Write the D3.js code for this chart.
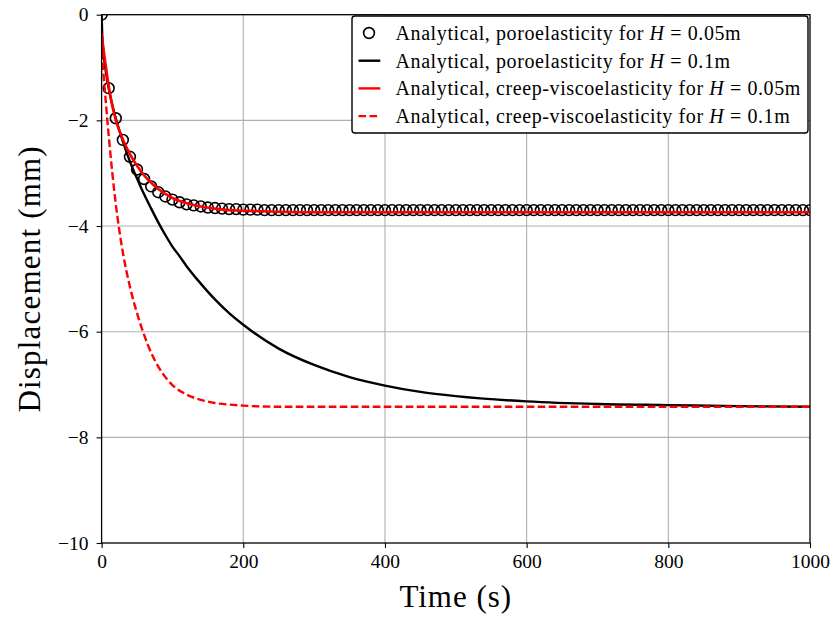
<!DOCTYPE html>
<html>
<head>
<meta charset="utf-8">
<script src="https://cdn.jsdelivr.net/npm/d3@7"></script>
<style>
body { margin: 0; background: #fff; }
svg { font-family: "Liberation Serif", serif; }
.axis line { stroke: #000; stroke-width: 1.1; }
.grid line { stroke: #b0b0b0; stroke-width: 1.1; }
</style>
</head>
<body>
<div id="chart"></div>
<script>
// poroelasticity, H = 0.05m (markers every 10 s)
var poroSmallValues = [0, -1.39, -1.96, -2.37, -2.69, -2.93, -3.11, -3.25, -3.36, -3.44,
    -3.50, -3.55, -3.59, -3.61, -3.63, -3.65, -3.66, -3.67, -3.68, -3.68,
    -3.69, -3.69, -3.69, -3.70, -3.70, -3.70, -3.70, -3.70, -3.70, -3.70,
    -3.70, -3.70, -3.70, -3.70, -3.70, -3.70, -3.70, -3.70, -3.70, -3.70,
    -3.70, -3.70, -3.70, -3.70, -3.70, -3.70, -3.70, -3.70, -3.70, -3.70,
    -3.70, -3.70, -3.70, -3.70, -3.70, -3.70, -3.70, -3.70, -3.70, -3.70,
    -3.70, -3.70, -3.70, -3.70, -3.70, -3.70, -3.70, -3.70, -3.70, -3.70,
    -3.70, -3.70, -3.70, -3.70, -3.70, -3.70, -3.70, -3.70, -3.70, -3.70,
    -3.70, -3.70, -3.70, -3.70, -3.70, -3.70, -3.70, -3.70, -3.70, -3.70,
    -3.70, -3.70, -3.70, -3.70, -3.70, -3.70, -3.70, -3.70, -3.70, -3.70,
    -3.70];
var poroSmallTimes = d3.range(0, 1001, 10);

// poroelasticity, H = 0.1m
var poroLargeTimes = [0, 1, 2, 3, 5, 10, 15, 20, 30, 40, 50, 60, 70, 80, 90, 100, 110, 120,
    140, 160, 180, 200, 250, 300, 350, 400, 450, 500, 600, 700, 800, 900, 1000];
var poroLargeValues = [0, -0.44, -0.62, -0.76, -0.98, -1.39, -1.70, -1.96, -2.40, -2.78, -3.10,
    -3.40, -3.67, -3.93, -4.17, -4.39, -4.57, -4.76, -5.09, -5.39, -5.65, -5.87,
    -6.32, -6.63, -6.86, -7.02, -7.14, -7.22, -7.32, -7.37, -7.39, -7.41, -7.42];

// creep-viscoelasticity, H = 0.05m
var creepSmallTimes = [0, 2, 5, 10, 15, 20, 25, 30, 40, 50, 60, 70, 80, 90, 100, 120, 140,
    160, 180, 200, 250, 300, 400, 600, 800, 1000];
var creepSmallValues = [-0.35, -0.58, -0.88, -1.35, -1.72, -1.99, -2.19, -2.36, -2.64, -2.86,
    -3.04, -3.18, -3.30, -3.39, -3.47, -3.57, -3.63, -3.67, -3.70, -3.71, -3.73,
    -3.74, -3.74, -3.74, -3.74, -3.74];

// creep-viscoelasticity, H = 0.1m
var creepLargeTimes = [0, 2, 4, 6, 8, 10, 15, 20, 25, 30, 40, 50, 60, 70, 80, 90, 100, 120,
    140, 160, 180, 200, 250, 300, 400, 600, 800, 1000];
var creepLargeValues = [-0.70, -1.02, -1.34, -1.66, -1.98, -2.28, -2.98, -3.58, -4.08, -4.50,
    -5.15, -5.65, -6.06, -6.40, -6.66, -6.86, -7.01, -7.19, -7.29, -7.35, -7.38,
    -7.40, -7.42, -7.42, -7.42, -7.42, -7.42, -7.42];

var xTicks = [0, 200, 400, 600, 800, 1000];
var yTicks = [0, -2, -4, -6, -8, -10];
var legendLabels = [
    ["Analytical, poroelasticity for ", "0.05m"],
    ["Analytical, poroelasticity for ", "0.1m"],
    ["Analytical, creep-viscoelasticity for ", "0.05m"],
    ["Analytical, creep-viscoelasticity for ", "0.1m"]
];

var margin = {left: 101.6, top: 14.7, right: 23, bottom: 75},
    width = 833 - margin.left - margin.right,
    height = 618 - margin.top - margin.bottom;

var svg = d3.select('#chart')
    .append('svg')
    .attr('width', 833)
    .attr('height', 618);

var g = svg.append('g')
    .attr('transform', `translate(${margin.left},${margin.top})`);

var x = d3.scaleLinear().domain([0, 1000]).range([0, width]);
var y = d3.scaleLinear().domain([-10, 0]).range([height, 0]);

g.append('clipPath').attr('id', 'clip')
    .append('rect').attr('width', width).attr('height', height);

// grid
g.append('g').attr('class', 'grid')
    .selectAll('line').data(xTicks.slice(1, -1)).enter()
    .append('line')
    .attr('x1', function(d) { return x(d); })
    .attr('x2', function(d) { return x(d); })
    .attr('y1', 0).attr('y2', height);
g.append('g').attr('class', 'grid')
    .selectAll('line').data(yTicks.slice(1, -1)).enter()
    .append('line')
    .attr('y1', function(d) { return y(d); })
    .attr('y2', function(d) { return y(d); })
    .attr('x1', 0).attr('x2', width);

var fmt = function(d) { return d < 0 ? '\u2212' + Math.abs(d) : String(d); };

g.append('g').attr('class', 'axis')
    .attr('transform', `translate(0,${height})`)
    .call(d3.axisBottom(x).tickValues(xTicks).tickFormat(fmt).tickSize(5).tickSizeOuter(0).tickPadding(6));
g.append('g').attr('class', 'axis')
    .call(d3.axisLeft(y).tickValues(yTicks).tickFormat(fmt).tickSize(5).tickSizeOuter(0).tickPadding(8));
g.selectAll('.axis .domain').remove();
g.selectAll('.axis')
    .attr('font-family', '"Liberation Serif", serif')
    .attr('font-size', 19.5);
g.selectAll('.axis text')
    .style('font-family', '"Liberation Serif", serif')
    .style('fill', '#000');

var plot = g.append('g').attr('clip-path', 'url(#clip)');

function pairs(ts, vs) {
    return ts.map(function(t, i) { return [t, vs[i]]; });
}

var line = d3.line()
    .x(function(d) { return x(d[0]); })
    .y(function(d) { return y(d[1]); })
    .curve(d3.curveMonotoneX);

plot.selectAll('.circ')
    .data(pairs(poroSmallTimes, poroSmallValues)).enter()
    .append('circle')
    .attr('class', 'circ')
    .attr('cx', function(d) { return x(d[0]); })
    .attr('cy', function(d) { return y(d[1]); })
    .attr('r', 5.4)
    .attr('fill', 'none')
    .attr('stroke', '#000')
    .attr('stroke-width', 1.6);

plot.append('path')
    .datum(pairs(poroLargeTimes, poroLargeValues))
    .attr('d', line)
    .attr('fill', 'none').attr('stroke', '#000').attr('stroke-width', 2.4);

plot.append('path')
    .datum(pairs(creepSmallTimes, creepSmallValues))
    .attr('d', line)
    .attr('fill', 'none').attr('stroke', '#ff0000').attr('stroke-width', 2.6);

plot.append('path')
    .datum(pairs(creepLargeTimes, creepLargeValues))
    .attr('d', line)
    .attr('fill', 'none').attr('stroke', '#ff0000').attr('stroke-width', 2.4)
    .attr('stroke-dasharray', '7.6,3.4');

// frame
g.append('rect')
    .attr('width', width).attr('height', height)
    .attr('fill', 'none').attr('stroke', '#000').attr('stroke-width', 1.3);

// axis titles
svg.append('text')
    .attr('x', margin.left + width / 2)
    .attr('y', 607)
    .attr('text-anchor', 'middle')
    .style('font-size', '31px')
    .style('letter-spacing', '1px')
    .text('Time (s)');

svg.append('text')
    .attr('transform', `translate(40,${margin.top + height / 2}) rotate(-90)`)
    .attr('text-anchor', 'middle')
    .style('font-size', '31px')
    .style('letter-spacing', '1.2px')
    .text('Displacement (mm)');

// legend
var legend = svg.append('g').attr('transform', 'translate(352,16)');
legend.append('rect')
    .attr('width', 456).attr('height', 117)
    .attr('rx', 3)
    .attr('fill', '#fff').attr('stroke', '#000').attr('stroke-width', 1.4);

var rows = legend.selectAll('.legend')
    .data(legendLabels).enter().append('g')
    .attr('class', 'legend')
    .attr('transform', function(d, i) { return `translate(0, ${17 + i * 27.7})`; });

rows.append('text')
    .attr('x', 43.5)
    .attr('y', 6.8)
    .style('font-size', '20px')
    .style('letter-spacing', '0.6px')
    .each(function(d) {
        var t = d3.select(this);
        t.append('tspan').text(d[0]);
        t.append('tspan').style('font-style', 'italic').text('H');
        t.append('tspan').text(' = ' + d[1]);
    });

rows.filter(function(d, i) { return i === 0; })
    .append('circle')
    .attr('cx', 17).attr('cy', 0).attr('r', 5.4)
    .attr('fill', 'none').attr('stroke', '#000').attr('stroke-width', 1.6);

rows.filter(function(d, i) { return i > 0; })
    .append('line')
    .attr('x1', 6.5).attr('x2', 28.3).attr('y1', 0).attr('y2', 0)
    .attr('stroke', function(d, i) { return i === 0 ? '#000' : '#ff0000'; })
    .attr('stroke-width', 2.4)
    .attr('stroke-dasharray', function(d, i) { return i === 2 ? '7.6,3.4' : null; });
</script>
</body>
</html>
